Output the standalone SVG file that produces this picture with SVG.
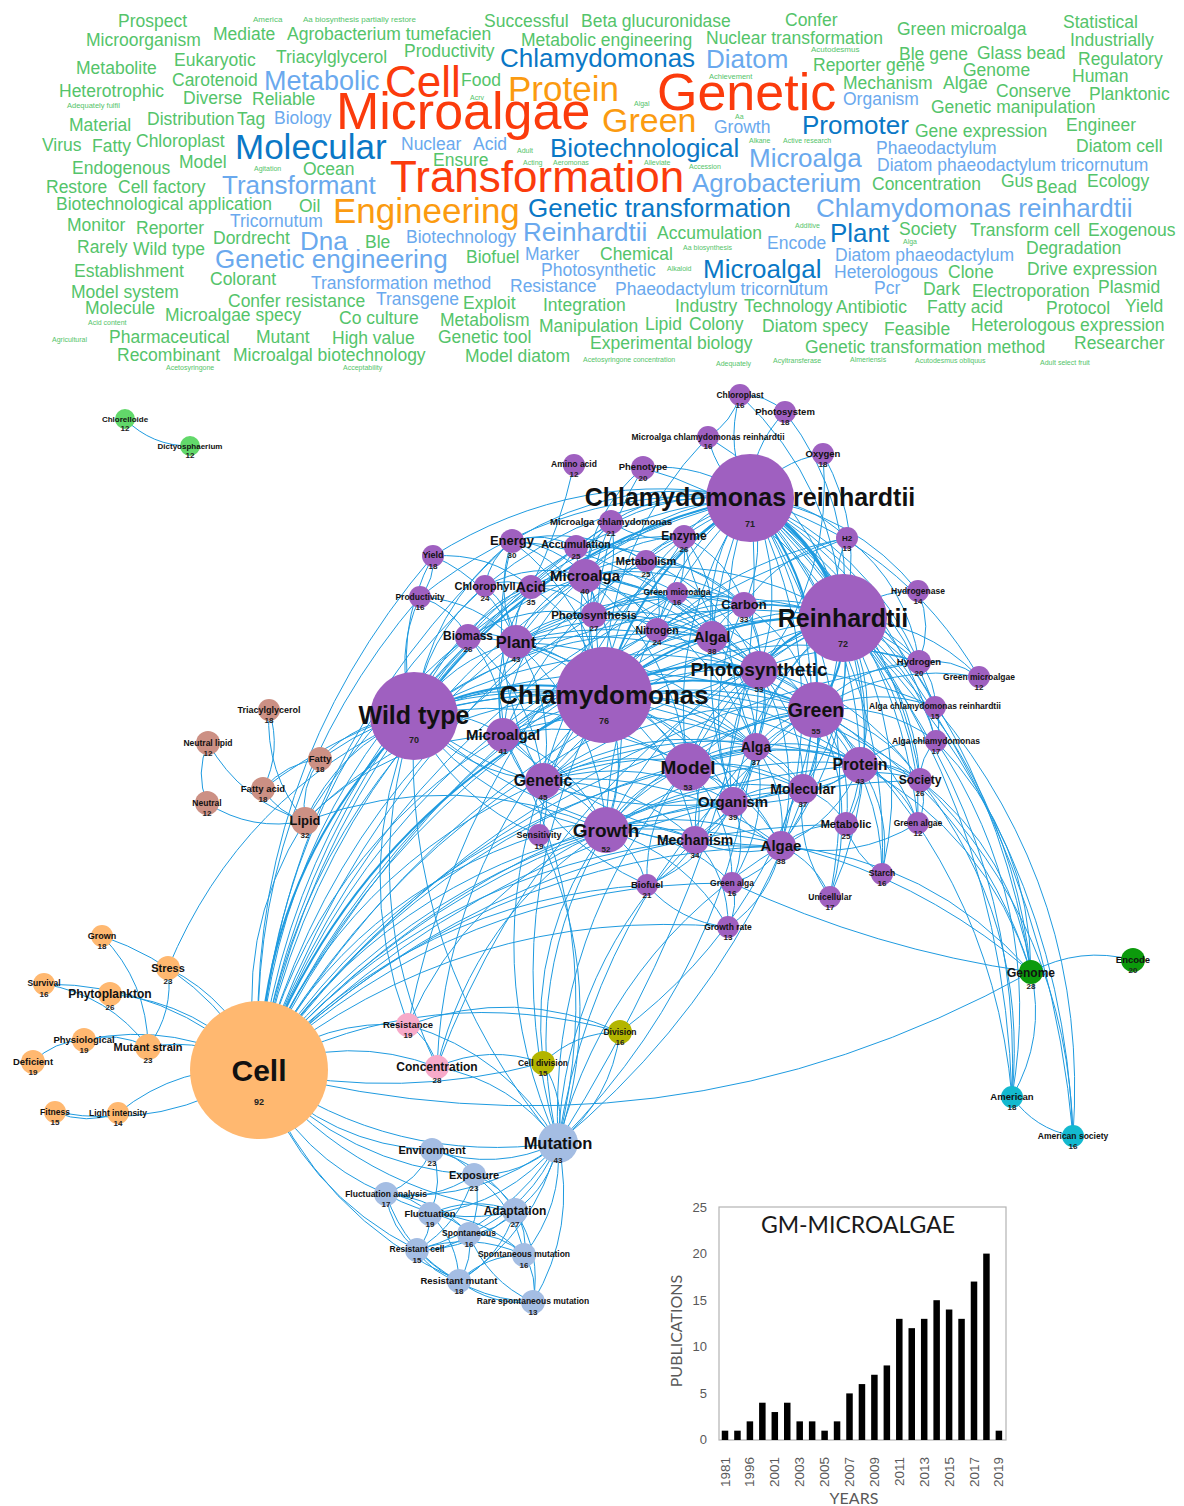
<svg xmlns="http://www.w3.org/2000/svg" width="1184" height="1506" viewBox="0 0 1184 1506">
<style>
text{font-family:"Liberation Sans",Arial,Helvetica,sans-serif}
.w{font-size:17.5px}
.g{fill:#54c46a}
.s{fill:#54c46a;font-size:8px}
.lb{fill:#6aa9ee}
.db{fill:#0a78c6}
.rd{fill:#fb3b0c}
.or{fill:#fb9b10}
#edges path{fill:none;stroke:#1f9be0;stroke-width:1}
#edges .t{stroke-width:2}
#edges .tt{stroke-width:3.4}
.p{fill:#9f60c0}
.o{fill:#ffb870}
.b{fill:#cc9084}
.lg{fill:#62d86a}
.pk{fill:#f7aac9}
.ol{fill:#b3b500}
.dg{fill:#0c9a0c}
.cy{fill:#13b9cf}
.lbn{fill:#a4bde3}
.l{font-weight:700;text-anchor:middle;fill:#111}
.v{font-weight:700;text-anchor:middle;fill:#222;font-size:8px}
.ax{font-family:Lato,"Liberation Sans",sans-serif;fill:#595959}
</style>
<rect width="1184" height="1506" fill="#fff"/>
<g id="wordcloud">
<text class="w g" x="118" y="27">Prospect</text>
<text class="s" x="253" y="22">America</text>
<text class="s" x="303" y="22">Aa biosynthesis partially restore</text>
<text class="w g" x="484" y="27">Successful</text>
<text class="w g" x="581" y="27">Beta glucuronidase</text>
<text class="w g" x="785" y="26">Confer</text>
<text class="w g" x="897" y="35">Green microalga</text>
<text class="w g" x="1063" y="28">Statistical</text>
<text class="w g" x="86" y="46">Microorganism</text>
<text class="w g" x="213" y="40">Mediate</text>
<text class="w g" x="287" y="40">Agrobacterium tumefacien</text>
<text class="w g" x="521" y="46">Metabolic engineering</text>
<text class="w g" x="706" y="44">Nuclear transformation</text>
<text class="w g" x="1070" y="46">Industrially</text>
<text class="w g" x="174" y="66">Eukaryotic</text>
<text class="w g" x="276" y="63">Triacylglycerol</text>
<text class="w g" x="404" y="57">Productivity</text>
<text class="db" x="500" y="67" font-size="26">Chlamydomonas</text>
<text class="lb" x="706" y="68" font-size="26">Diatom</text>
<text class="s" x="811" y="52" font-size="7.5">Acutodesmus</text>
<text class="w g" x="899" y="60">Ble gene</text>
<text class="w g" x="977" y="59">Glass bead</text>
<text class="w g" x="1078" y="65">Regulatory</text>
<text class="w g" x="76" y="74">Metabolite</text>
<text class="w g" x="813" y="71">Reporter gene</text>
<text class="w g" x="172" y="86">Carotenoid</text>
<text class="lb" x="264" y="90" font-size="27">Metabolic</text>
<text class="rd" x="385" y="97" font-size="44">Cell</text>
<text class="w g" x="461" y="86">Food</text>
<text class="or" x="508" y="101" font-size="35">Protein</text>
<text class="s" x="709" y="79" style="font-size:7.5px">Achievement</text>
<text class="rd" x="657" y="110" font-size="52">Genetic</text>
<text class="w g" x="963" y="76">Genome</text>
<text class="w g" x="1072" y="82">Human</text>
<text class="w g" x="59" y="97">Heterotrophic</text>
<text class="w g" x="843" y="89">Mechanism</text>
<text class="w g" x="943" y="89">Algae</text>
<text class="w g" x="996" y="97">Conserve</text>
<text class="w g" x="1089" y="100">Planktonic</text>
<text class="w g" x="183" y="104">Diverse</text>
<text class="w g" x="252" y="105">Reliable</text>
<text class="s" x="67" y="108" style="font-size:7.5px">Adequately fulfil</text>
<text class="s" x="470" y="100" style="font-size:7px">Acrv</text>
<text class="s" x="634" y="106" style="font-size:7px">Algal</text>
<text class="lb" x="843" y="105" font-size="17.5">Organism</text>
<text class="rd" x="336" y="129" font-size="52">Microalgae</text>
<text class="w g" x="931" y="113">Genetic manipulation</text>
<text class="w g" x="69" y="131">Material</text>
<text class="w g" x="147" y="125">Distribution</text>
<text class="w g" x="237" y="125">Tag</text>
<text class="lb" x="274" y="124" font-size="17.5">Biology</text>
<text class="or" x="602" y="132" font-size="34">Green</text>
<text class="s" x="735" y="119" style="font-size:7px">Aa</text>
<text class="lb" x="714" y="133" font-size="17.5">Growth</text>
<text class="db" x="802" y="134" font-size="26">Promoter</text>
<text class="w g" x="915" y="137">Gene expression</text>
<text class="w g" x="1066" y="131">Engineer</text>
<text class="w g" x="42" y="151">Virus</text>
<text class="w g" x="92" y="152">Fatty</text>
<text class="w g" x="136" y="147">Chloroplast</text>
<text class="db" x="235" y="159" font-size="35">Molecular</text>
<text class="lb" x="401" y="150" font-size="17.5">Nuclear</text>
<text class="lb" x="473" y="150" font-size="17.5">Acid</text>
<text class="s" x="517" y="153" style="font-size:7px">Adult</text>
<text class="db" x="550" y="157" font-size="26">Biotechnological</text>
<text class="s" x="749" y="143" style="font-size:7px">Alkane</text>
<text class="s" x="783" y="143" style="font-size:7px">Active research</text>
<text class="lb" x="749" y="167" font-size="26">Microalga</text>
<text class="lb" x="876" y="154" font-size="17.5">Phaeodactylum</text>
<text class="w g" x="1076" y="152">Diatom cell</text>
<text class="w g" x="72" y="174">Endogenous</text>
<text class="w g" x="179" y="168">Model</text>
<text class="s" x="254" y="171" style="font-size:7px">Agitation</text>
<text class="w g" x="303" y="175">Ocean</text>
<text class="w g" x="433" y="166">Ensure</text>
<text class="s" x="523" y="165" style="font-size:7px">Acting</text>
<text class="s" x="553" y="165" style="font-size:7px">Aeromonas</text>
<text class="s" x="644" y="165" style="font-size:7px">Alleviate</text>
<text class="s" x="689" y="169" style="font-size:7px">Accession</text>
<text class="lb" x="877" y="171" font-size="17.5">Diatom phaeodactylum tricornutum</text>
<text class="rd" x="390" y="192" font-size="44">Transformation</text>
<text class="w g" x="46" y="193">Restore</text>
<text class="w g" x="118" y="193">Cell factory</text>
<text class="lb" x="222" y="194" font-size="26">Transformant</text>
<text class="lb" x="692" y="192" font-size="26">Agrobacterium</text>
<text class="w g" x="872" y="190">Concentration</text>
<text class="w g" x="1001" y="187">Gus</text>
<text class="w g" x="1036" y="193">Bead</text>
<text class="w g" x="1087" y="187">Ecology</text>
<text class="w g" x="56" y="210">Biotechnological application</text>
<text class="w g" x="299" y="212">Oil</text>
<text class="or" x="333" y="223" font-size="35">Engineering</text>
<text class="db" x="528" y="217" font-size="26">Genetic transformation</text>
<text class="lb" x="816" y="217" font-size="26">Chlamydomonas reinhardtii</text>
<text class="lb" x="230" y="227" font-size="17.5">Tricornutum</text>
<text class="w g" x="67" y="231">Monitor</text>
<text class="w g" x="136" y="234">Reporter</text>
<text class="w g" x="213" y="244">Dordrecht</text>
<text class="lb" x="300" y="250" font-size="26">Dna</text>
<text class="w g" x="365" y="248">Ble</text>
<text class="lb" x="406" y="243" font-size="17.5">Biotechnology</text>
<text class="lb" x="523" y="241" font-size="26">Reinhardtii</text>
<text class="w g" x="657" y="239">Accumulation</text>
<text class="s" x="795" y="228" style="font-size:7px">Additive</text>
<text class="db" x="830" y="242" font-size="26">Plant</text>
<text class="w g" x="899" y="235">Society</text>
<text class="w g" x="970" y="236">Transform cell</text>
<text class="w g" x="1088" y="236">Exogenous</text>
<text class="lb" x="767" y="249" font-size="17.5">Encode</text>
<text class="s" x="903" y="244" style="font-size:7px">Alga</text>
<text class="w g" x="77" y="253">Rarely</text>
<text class="w g" x="133" y="255">Wild type</text>
<text class="lb" x="215" y="268" font-size="26">Genetic engineering</text>
<text class="w g" x="466" y="263">Biofuel</text>
<text class="lb" x="525" y="260" font-size="17.5">Marker</text>
<text class="w g" x="600" y="260">Chemical</text>
<text class="s" x="683" y="250" style="font-size:7px">Aa biosynthesis</text>
<text class="lb" x="835" y="261" font-size="17.5">Diatom phaeodactylum</text>
<text class="w g" x="1026" y="254">Degradation</text>
<text class="w g" x="74" y="277">Establishment</text>
<text class="w g" x="210" y="285">Colorant</text>
<text class="lb" x="541" y="276" font-size="17.5">Photosynthetic</text>
<text class="s" x="667" y="271" style="font-size:7px">Alkaloid</text>
<text class="db" x="703" y="278" font-size="26">Microalgal</text>
<text class="lb" x="834" y="278" font-size="17.5">Heterologous</text>
<text class="w g" x="948" y="278">Clone</text>
<text class="w g" x="1027" y="275">Drive expression</text>
<text class="w g" x="71" y="298">Model system</text>
<text class="lb" x="311" y="289" font-size="17.5">Transformation method</text>
<text class="lb" x="510" y="292" font-size="17.5">Resistance</text>
<text class="lb" x="615" y="295" font-size="17.5">Phaeodactylum tricornutum</text>
<text class="lb" x="874" y="294" font-size="17.5">Pcr</text>
<text class="w g" x="923" y="295">Dark</text>
<text class="w g" x="972" y="297">Electroporation</text>
<text class="w g" x="1098" y="293">Plasmid</text>
<text class="w g" x="85" y="314">Molecule</text>
<text class="w g" x="228" y="307">Confer resistance</text>
<text class="lb" x="376" y="305" font-size="17.5">Transgene</text>
<text class="w g" x="463" y="309">Exploit</text>
<text class="w g" x="543" y="311">Integration</text>
<text class="w g" x="675" y="312">Industry</text>
<text class="w g" x="744" y="312">Technology</text>
<text class="w g" x="836" y="313">Antibiotic</text>
<text class="w g" x="927" y="313">Fatty acid</text>
<text class="w g" x="1046" y="314">Protocol</text>
<text class="w g" x="1125" y="312">Yield</text>
<text class="s" x="88" y="325" style="font-size:7px">Acid content</text>
<text class="w g" x="165" y="321">Microalgae specy</text>
<text class="w g" x="339" y="324">Co culture</text>
<text class="w g" x="440" y="326">Metabolism</text>
<text class="w g" x="539" y="332">Manipulation</text>
<text class="w g" x="645" y="330">Lipid</text>
<text class="w g" x="689" y="330">Colony</text>
<text class="w g" x="762" y="332">Diatom specy</text>
<text class="w g" x="884" y="335">Feasible</text>
<text class="w g" x="971" y="331">Heterologous expression</text>
<text class="s" x="52" y="342" style="font-size:7px">Agricultural</text>
<text class="w g" x="109" y="343">Pharmaceutical</text>
<text class="w g" x="256" y="343">Mutant</text>
<text class="w g" x="332" y="344">High value</text>
<text class="w g" x="438" y="343">Genetic tool</text>
<text class="w g" x="590" y="349">Experimental biology</text>
<text class="w g" x="1074" y="349">Researcher</text>
<text class="w g" x="117" y="361">Recombinant</text>
<text class="w g" x="233" y="361">Microalgal biotechnology</text>
<text class="w g" x="465" y="362">Model diatom</text>
<text class="s" x="583" y="362" style="font-size:7px">Acetosyringone concentration</text>
<text class="w g" x="805" y="353">Genetic transformation method</text>
<text class="s" x="166" y="370" style="font-size:7px">Acetosyringone</text>
<text class="s" x="343" y="370" style="font-size:7px">Acceptability</text>
<text class="s" x="716" y="366" style="font-size:7px">Adequately</text>
<text class="s" x="773" y="363" style="font-size:7px">Acyltransferase</text>
<text class="s" x="850" y="362" style="font-size:7px">Almeriensis</text>
<text class="s" x="915" y="363" style="font-size:7px">Acutodesmus obliquus</text>
<text class="s" x="1040" y="365" style="font-size:7px">Adult select fruit</text>
</g>
<g id="edges">
<path class="t" d="M259 1070Q266 862 414 716"/>
<path class="t" d="M259 1070Q357 814 604 695"/>
<path d="M259 1070Q390 686 750 498"/>
<path d="M259 1070Q461 727 843 618"/>
<path d="M259 1070Q466 779 816 710"/>
<path d="M259 1070Q413 833 688 767"/>
<path d="M259 1070Q385 881 606 830"/>
<path d="M259 1070Q429 770 759 670"/>
<path d="M259 1070Q343 869 543 781"/>
<path d="M259 1070Q314 854 503 735"/>
<path d="M259 1070Q302 805 516 642"/>
<path d="M259 1070Q323 758 585 576"/>
<path d="M259 1070Q475 854 781 846"/>
<path d="M259 1070Q443 809 756 747"/>
<path d="M259 1070Q442 841 733 802"/>
<path d="M259 1070Q498 797 860 765"/>
<path d="M558 1143Q394 1166 259 1070"/>
<path d="M259 1070Q324 1018 408 1025"/>
<path d="M259 1070Q347 1033 437 1067"/>
<path d="M543 1063Q402 1100 259 1070"/>
<path d="M259 1070Q432 979 620 1032"/>
<path d="M1031 972Q665 1175 259 1070"/>
<path d="M432 1150Q330 1145 259 1070"/>
<path d="M474 1175Q346 1166 259 1070"/>
<path d="M386 1194Q298 1157 259 1070"/>
<path d="M417 1250Q302 1192 259 1070"/>
<path d="M459 1281Q317 1216 259 1070"/>
<path d="M515 1211Q359 1192 259 1070"/>
<path d="M102 936Q207 972 259 1070"/>
<path d="M168 968Q234 1001 259 1070"/>
<path d="M44 984Q169 984 259 1070"/>
<path d="M110 994Q200 1002 259 1070"/>
<path d="M84 1040Q178 1020 259 1070"/>
<path d="M148 1047Q208 1036 259 1070"/>
<path d="M33 1062Q54 1041 84 1040"/>
<path d="M118 1113Q86 1125 55 1112"/>
<path d="M259 1070Q165 1132 55 1112"/>
<path d="M118 1113Q180 1063 259 1070"/>
<path d="M168 968Q174 1012 148 1047"/>
<path d="M102 936Q147 982 148 1047"/>
<path d="M44 984Q109 995 148 1047"/>
<path d="M84 1040Q117 1031 148 1047"/>
<path d="M168 968Q241 793 414 716"/>
<path d="M305 821Q339 747 414 716"/>
<path d="M305 821Q429 698 604 695"/>
<path d="M305 821Q463 571 750 498"/>
<path d="M305 821Q278 813 263 789"/>
<path d="M305 821Q241 801 208 743"/>
<path d="M305 821Q252 832 207 803"/>
<path d="M305 821Q265 773 269 710"/>
<path d="M305 821Q300 787 320 759"/>
<path d="M207 803Q195 773 208 743"/>
<path d="M263 789Q286 763 320 759"/>
<path d="M320 759Q358 719 414 716"/>
<path d="M320 759Q449 670 604 695"/>
<path d="M263 789Q415 674 604 695"/>
<path d="M269 710Q282 751 263 789"/>
<path d="M259 1070Q232 936 305 821"/>
<path d="M305 821Q457 765 606 830"/>
<path d="M305 821Q387 738 503 735"/>
<path d="M190 446Q152 446 125 419"/>
<path class="t" d="M414 716Q505 668 604 695"/>
<path class="t" d="M414 716Q538 540 750 498"/>
<path d="M414 716Q609 581 843 618"/>
<path d="M414 716Q614 633 816 710"/>
<path d="M414 716Q577 624 759 670"/>
<path d="M414 716Q561 687 688 767"/>
<path d="M606 830Q487 811 414 716"/>
<path d="M543 781Q466 774 414 716"/>
<path d="M414 716Q462 708 503 735"/>
<path d="M414 716Q450 659 516 642"/>
<path d="M414 716Q472 612 585 576"/>
<path d="M414 716Q591 663 756 747"/>
<path d="M781 846Q572 854 414 716"/>
<path d="M414 716Q647 651 860 765"/>
<path d="M733 802Q556 823 414 716"/>
<path d="M414 716Q425 666 468 637"/>
<path d="M414 716Q392 632 433 556"/>
<path d="M414 716Q393 655 420 597"/>
<path d="M414 716Q547 617 712 637"/>
<path d="M414 716Q447 628 531 587"/>
<path d="M558 1143Q401 958 414 716"/>
<path d="M437 1067Q355 896 414 716"/>
<path d="M408 1025Q349 869 414 716"/>
<path d="M414 716Q424 637 485 586"/>
<path d="M414 716Q428 609 512 541"/>
<path d="M539 835Q453 800 414 716"/>
<path class="t" d="M604 695Q638 567 750 498"/>
<path class="t" d="M604 695Q708 609 843 618"/>
<path class="t" d="M604 695Q713 660 816 710"/>
<path class="t" d="M604 695Q677 652 759 670"/>
<path d="M604 695Q660 714 688 767"/>
<path d="M604 695Q632 762 606 830"/>
<path d="M604 695Q591 750 543 781"/>
<path d="M503 735Q546 695 604 695"/>
<path d="M516 642Q571 651 604 695"/>
<path d="M604 695Q571 639 585 576"/>
<path d="M604 695Q690 691 756 747"/>
<path d="M604 695Q723 735 781 846"/>
<path d="M604 695Q746 679 860 765"/>
<path d="M604 695Q690 723 733 802"/>
<path d="M604 695Q722 702 803 789"/>
<path d="M604 695Q646 644 712 637"/>
<path d="M604 695Q656 622 744 605"/>
<path d="M468 637Q548 639 604 695"/>
<path d="M531 587Q589 626 604 695"/>
<path d="M512 541Q589 600 604 695"/>
<path d="M604 695Q612 600 684 537"/>
<path d="M604 695Q573 607 611 522"/>
<path d="M604 695Q694 568 847 538"/>
<path d="M604 695Q755 616 919 662"/>
<path d="M604 695Q779 674 920 780"/>
<path d="M558 1143Q491 910 604 695"/>
<path d="M604 695Q679 749 695 840"/>
<path d="M604 695Q620 629 677 593"/>
<path d="M604 695Q772 635 935 707"/>
<path d="M539 835Q544 752 604 695"/>
<path class="tt" d="M750 498Q821 539 843 618"/>
<path d="M750 498Q724 449 740 395"/>
<path d="M750 498Q750 448 785 412"/>
<path d="M750 498Q717 476 708 437"/>
<path d="M750 498Q778 461 823 454"/>
<path d="M643 468Q703 462 750 498"/>
<path d="M611 522Q676 482 750 498"/>
<path d="M684 537Q709 504 750 498"/>
<path d="M750 498Q807 499 847 538"/>
<path d="M750 498Q853 511 918 591"/>
<path d="M750 498Q867 546 919 662"/>
<path d="M750 498Q789 582 759 670"/>
<path class="t" d="M750 498Q825 591 816 710"/>
<path d="M688 767Q665 620 750 498"/>
<path d="M585 576Q652 504 750 498"/>
<path d="M516 642Q604 523 750 498"/>
<path d="M606 830Q612 635 750 498"/>
<path d="M543 781Q590 598 750 498"/>
<path d="M503 735Q579 567 750 498"/>
<path d="M756 747Q703 624 750 498"/>
<path d="M750 498Q835 666 781 846"/>
<path d="M750 498Q858 610 860 765"/>
<path d="M733 802Q681 647 750 498"/>
<path d="M750 498Q835 633 803 789"/>
<path d="M712 637Q703 560 750 498"/>
<path d="M750 498Q768 553 744 605"/>
<path d="M657 630Q677 545 750 498"/>
<path d="M750 498Q884 566 935 707"/>
<path d="M750 498Q892 582 936 741"/>
<path d="M750 498Q891 605 920 780"/>
<path d="M750 498Q891 660 882 874"/>
<path d="M750 498Q985 679 1031 972"/>
<path d="M750 498Q1001 745 1012 1097"/>
<path d="M750 498Q1039 752 1073 1136"/>
<path d="M433 556Q580 464 750 498"/>
<path d="M512 541Q622 472 750 498"/>
<path d="M576 547Q653 488 750 498"/>
<path d="M485 586Q600 489 750 498"/>
<path d="M468 637Q581 511 750 498"/>
<path d="M420 597Q565 481 750 498"/>
<path d="M750 498Q870 681 830 897"/>
<path d="M750 498Q899 627 918 823"/>
<path d="M750 498Q900 542 979 677"/>
<path class="t" d="M843 618Q848 669 816 710"/>
<path class="t" d="M759 670Q791 627 843 618"/>
<path d="M843 618Q875 590 918 591"/>
<path d="M843 618Q890 625 919 662"/>
<path d="M843 618Q923 620 979 677"/>
<path d="M843 618Q907 644 935 707"/>
<path d="M843 618Q914 661 936 741"/>
<path d="M843 618Q914 684 920 780"/>
<path d="M843 618Q881 688 860 765"/>
<path d="M688 767Q736 662 843 618"/>
<path d="M606 830Q682 677 843 618"/>
<path d="M756 747Q774 665 843 618"/>
<path d="M843 618Q858 744 781 846"/>
<path d="M843 618Q857 712 803 789"/>
<path d="M733 802Q751 688 843 618"/>
<path d="M712 637Q774 601 843 618"/>
<path d="M744 605Q796 592 843 618"/>
<path d="M843 618Q829 577 847 538"/>
<path d="M585 576Q722 545 843 618"/>
<path d="M516 642Q675 565 843 618"/>
<path d="M543 781Q660 640 843 618"/>
<path d="M503 735Q650 609 843 618"/>
<path d="M843 618Q914 738 882 874"/>
<path d="M843 618Q886 720 846 824"/>
<path d="M843 618Q1008 757 1031 972"/>
<path d="M843 618Q1023 824 1012 1097"/>
<path d="M843 618Q1062 831 1073 1136"/>
<path d="M843 618Q892 760 830 897"/>
<path d="M657 630Q748 587 843 618"/>
<path d="M843 618Q922 706 918 823"/>
<path d="M759 670Q796 679 816 710"/>
<path d="M688 767Q741 713 816 710"/>
<path d="M606 830Q687 728 816 710"/>
<path d="M543 781Q665 691 816 710"/>
<path d="M503 735Q654 660 816 710"/>
<path d="M756 747Q779 716 816 710"/>
<path d="M816 710Q826 785 781 846"/>
<path d="M816 710Q849 729 860 765"/>
<path d="M816 710Q825 752 803 789"/>
<path d="M733 802Q756 739 816 710"/>
<path d="M816 710Q882 724 920 780"/>
<path d="M816 710Q882 701 936 741"/>
<path d="M816 710Q875 685 935 707"/>
<path d="M816 710Q858 665 919 662"/>
<path d="M816 710Q891 661 979 677"/>
<path d="M516 642Q680 616 816 710"/>
<path d="M585 576Q727 597 816 710"/>
<path d="M695 840Q730 751 816 710"/>
<path d="M816 710Q890 746 918 823"/>
<path d="M816 710Q854 761 846 824"/>
<path d="M816 710Q976 798 1031 972"/>
<path d="M816 710Q991 864 1012 1097"/>
<path d="M558 1143Q600 875 816 710"/>
<path d="M816 710Q860 801 830 897"/>
<path d="M816 710Q882 779 882 874"/>
<path d="M688 767Q704 704 759 670"/>
<path d="M606 830Q634 782 688 767"/>
<path d="M543 781Q613 745 688 767"/>
<path d="M503 735Q602 714 688 767"/>
<path d="M688 767Q718 743 756 747"/>
<path d="M688 767Q750 788 781 846"/>
<path d="M688 767Q718 776 733 802"/>
<path d="M688 767Q750 755 803 789"/>
<path d="M688 767Q774 732 860 765"/>
<path d="M688 767Q706 802 695 840"/>
<path d="M688 767Q807 727 920 780"/>
<path d="M558 1143Q548 929 688 767"/>
<path d="M516 642Q627 670 688 767"/>
<path d="M585 576Q675 651 688 767"/>
<path d="M688 767Q733 816 732 883"/>
<path d="M647 885Q644 818 688 767"/>
<path d="M543 781Q584 793 606 830"/>
<path d="M503 735Q574 762 606 830"/>
<path d="M606 830Q652 817 695 840"/>
<path d="M606 830Q697 803 781 846"/>
<path d="M606 830Q664 791 733 802"/>
<path d="M606 830Q664 758 756 747"/>
<path d="M606 830Q720 747 860 765"/>
<path d="M539 835Q571 819 606 830"/>
<path d="M606 830Q637 849 647 885"/>
<path d="M606 830Q686 854 728 927"/>
<path d="M558 1143Q519 977 606 830"/>
<path d="M606 830Q696 770 803 789"/>
<path d="M516 642Q599 718 606 830"/>
<path d="M585 576Q646 699 606 830"/>
<path d="M606 830Q680 831 732 883"/>
<path d="M543 1063Q528 934 606 830"/>
<path d="M408 1025Q468 888 606 830"/>
<path d="M437 1067Q474 915 606 830"/>
<path d="M606 830Q847 816 1031 972"/>
<path d="M503 735Q532 750 543 781"/>
<path d="M516 642Q557 706 543 781"/>
<path d="M543 781Q643 721 756 747"/>
<path d="M543 781Q675 766 781 846"/>
<path d="M543 781Q642 753 733 802"/>
<path d="M543 781Q675 733 803 789"/>
<path d="M543 781Q631 780 695 840"/>
<path d="M543 781Q698 710 860 765"/>
<path d="M558 1143Q478 965 543 781"/>
<path d="M543 781Q552 809 539 835"/>
<path d="M585 576Q605 687 543 781"/>
<path d="M503 735Q491 686 516 642"/>
<path d="M503 735Q512 639 585 576"/>
<path d="M503 735Q618 651 759 670"/>
<path d="M503 735Q632 690 756 747"/>
<path d="M647 885Q545 839 503 735"/>
<path d="M781 846Q620 846 503 735"/>
<path d="M503 735Q487 655 531 587"/>
<path d="M516 642Q537 595 585 576"/>
<path d="M516 642Q643 607 759 670"/>
<path d="M468 637Q493 630 516 642"/>
<path d="M516 642Q550 613 594 615"/>
<path d="M516 642Q512 611 531 587"/>
<path d="M485 586Q512 608 516 642"/>
<path d="M516 642Q657 646 756 747"/>
<path d="M516 642Q613 600 712 637"/>
<path d="M516 642Q623 578 744 605"/>
<path d="M516 642Q494 592 512 541"/>
<path d="M420 597Q477 600 516 642"/>
<path d="M433 556Q492 582 516 642"/>
<path d="M585 576Q575 563 576 547"/>
<path d="M585 576Q612 556 646 561"/>
<path d="M585 576Q627 537 684 537"/>
<path d="M585 576Q597 594 594 615"/>
<path d="M585 576Q691 588 759 670"/>
<path d="M585 576Q661 581 712 637"/>
<path d="M585 576Q670 559 744 605"/>
<path d="M512 541Q556 544 585 576"/>
<path d="M531 587Q556 571 585 576"/>
<path d="M585 576Q632 589 657 630"/>
<path d="M585 576Q634 566 677 593"/>
<path d="M585 576Q587 544 611 522"/>
<path d="M585 576Q592 510 643 468"/>
<path d="M485 586Q533 561 585 576"/>
<path d="M585 576Q705 627 756 747"/>
<path d="M712 637Q742 644 759 670"/>
<path d="M744 605Q764 634 759 670"/>
<path d="M759 670Q773 709 756 747"/>
<path d="M759 670Q828 697 860 765"/>
<path d="M759 670Q805 754 781 846"/>
<path d="M733 802Q720 731 759 670"/>
<path d="M759 670Q805 721 803 789"/>
<path d="M594 615Q688 610 759 670"/>
<path d="M759 670Q837 634 919 662"/>
<path d="M657 630Q716 630 759 670"/>
<path d="M759 670Q695 618 684 537"/>
<path d="M695 840Q693 742 759 670"/>
<path d="M759 670Q861 693 920 780"/>
<path d="M712 637Q722 615 744 605"/>
<path d="M712 637Q756 683 756 747"/>
<path d="M657 630Q686 622 712 637"/>
<path d="M756 747Q812 735 860 765"/>
<path d="M756 747Q788 791 781 846"/>
<path d="M756 747Q755 779 733 802"/>
<path d="M756 747Q788 759 803 789"/>
<path d="M756 747Q744 806 695 840"/>
<path d="M756 747Q771 820 732 883"/>
<path d="M860 765Q836 788 803 789"/>
<path d="M860 765Q893 760 920 780"/>
<path d="M860 765Q837 821 781 846"/>
<path d="M860 765Q865 797 846 824"/>
<path d="M860 765Q804 809 733 802"/>
<path d="M860 765Q893 738 936 741"/>
<path d="M860 765Q893 815 882 874"/>
<path d="M860 765Q987 834 1031 972"/>
<path d="M860 765Q901 782 918 823"/>
<path d="M920 780Q920 757 936 741"/>
<path d="M920 780Q928 802 918 823"/>
<path d="M920 780Q1029 920 1012 1097"/>
<path d="M920 780Q1068 927 1073 1136"/>
<path d="M920 780Q1014 854 1031 972"/>
<path d="M781 846Q781 813 803 789"/>
<path d="M781 846Q748 834 733 802"/>
<path d="M781 846Q737 860 695 840"/>
<path d="M781 846Q809 822 846 824"/>
<path d="M781 846Q764 874 732 883"/>
<path d="M781 846Q816 862 830 897"/>
<path d="M781 846Q771 897 728 927"/>
<path d="M781 846Q931 859 1031 972"/>
<path d="M918 823Q854 862 781 846"/>
<path d="M733 802Q765 781 803 789"/>
<path d="M733 802Q722 829 695 840"/>
<path d="M733 802Q749 843 732 883"/>
<path d="M733 802Q707 861 647 885"/>
<path d="M695 840Q680 872 647 885"/>
<path d="M695 840Q729 877 728 927"/>
<path d="M695 840Q739 793 803 789"/>
<path d="M803 789Q831 798 846 824"/>
<path d="M803 789Q860 761 920 780"/>
<path d="M728 927Q679 922 647 885"/>
<path d="M732 883Q739 906 728 927"/>
<path d="M1031 972Q875 950 732 883"/>
<path d="M830 897Q795 848 803 789"/>
<path d="M882 874Q854 856 846 824"/>
<path d="M919 662Q952 657 979 677"/>
<path d="M919 662Q936 681 935 707"/>
<path d="M918 591Q933 626 919 662"/>
<path d="M935 707Q942 724 936 741"/>
<path d="M936 741Q1045 904 1012 1097"/>
<path d="M936 741Q1030 837 1031 972"/>
<path d="M935 707Q1090 894 1073 1136"/>
<path d="M1031 972Q1080 946 1133 960"/>
<path d="M1073 1136Q1035 1129 1012 1097"/>
<path d="M1031 972Q1046 1038 1012 1097"/>
<path d="M558 1143Q496 1172 432 1150"/>
<path d="M558 1143Q522 1176 474 1175"/>
<path d="M558 1143Q482 1203 386 1194"/>
<path d="M558 1143Q508 1204 430 1214"/>
<path d="M558 1143Q550 1186 515 1211"/>
<path d="M558 1143Q532 1206 469 1234"/>
<path d="M558 1143Q509 1225 417 1250"/>
<path d="M558 1143Q563 1206 524 1255"/>
<path d="M558 1143Q536 1232 459 1281"/>
<path d="M558 1143Q577 1228 533 1302"/>
<path d="M432 1150Q458 1154 474 1175"/>
<path d="M432 1150Q418 1181 386 1194"/>
<path d="M432 1150Q444 1182 430 1214"/>
<path d="M432 1150Q486 1164 515 1211"/>
<path d="M474 1175Q502 1185 515 1211"/>
<path d="M474 1175Q483 1205 469 1234"/>
<path d="M474 1175Q460 1224 417 1250"/>
<path d="M474 1175Q515 1205 524 1255"/>
<path d="M474 1175Q434 1202 386 1194"/>
<path d="M386 1194Q412 1195 430 1214"/>
<path d="M417 1250Q390 1228 386 1194"/>
<path d="M459 1281Q405 1252 386 1194"/>
<path d="M386 1194Q436 1197 469 1234"/>
<path d="M515 1211Q447 1228 386 1194"/>
<path d="M430 1214Q454 1216 469 1234"/>
<path d="M430 1214Q431 1235 417 1250"/>
<path d="M430 1214Q458 1242 459 1281"/>
<path d="M430 1214Q472 1195 515 1211"/>
<path d="M430 1214Q485 1216 524 1255"/>
<path d="M515 1211Q497 1232 469 1234"/>
<path d="M515 1211Q528 1231 524 1255"/>
<path d="M515 1211Q474 1250 417 1250"/>
<path d="M515 1211Q542 1253 533 1302"/>
<path d="M515 1211Q501 1257 459 1281"/>
<path d="M469 1234Q446 1252 417 1250"/>
<path d="M469 1234Q501 1233 524 1255"/>
<path d="M469 1234Q473 1260 459 1281"/>
<path d="M533 1302Q487 1281 469 1234"/>
<path d="M459 1281Q432 1274 417 1250"/>
<path d="M417 1250Q472 1231 524 1255"/>
<path d="M459 1281Q486 1255 524 1255"/>
<path d="M524 1255Q538 1277 533 1302"/>
<path d="M533 1302Q492 1306 459 1281"/>
<path d="M533 1302Q465 1299 417 1250"/>
<path d="M437 1067Q513 1081 558 1143"/>
<path d="M408 1025Q507 1054 558 1143"/>
<path d="M620 1032Q611 1100 558 1143"/>
<path d="M543 1063Q566 1100 558 1143"/>
<path d="M558 1143Q566 964 695 840"/>
<path d="M558 1143Q610 950 781 846"/>
<path d="M503 735Q612 928 558 1143"/>
<path d="M843 618Q805 937 558 1143"/>
<path d="M750 498Q783 782 558 1143"/>
<path d="M759 670Q753 947 558 1143"/>
<path d="M539 835Q610 985 558 1143"/>
<path d="M408 1025Q431 1040 437 1067"/>
<path d="M408 1025Q474 693 750 498"/>
<path d="M437 1067Q550 761 843 618"/>
<path d="M408 1025Q515 986 620 1032"/>
<path d="M437 1067Q489 1044 543 1063"/>
<path d="M543 1063Q575 1032 620 1032"/>
<path d="M816 710Q782 910 620 1032"/>
<path d="M437 1067Q446 848 604 695"/>
<path d="M740 395Q766 394 785 412"/>
<path d="M740 395Q732 422 708 437"/>
<path d="M740 395Q836 486 843 618"/>
<path d="M785 412Q855 503 843 618"/>
<path d="M823 454Q866 532 843 618"/>
<path d="M823 454Q834 575 759 670"/>
<path d="M604 695Q604 545 708 437"/>
<path d="M708 437Q812 500 843 618"/>
<path d="M604 695Q578 574 643 468"/>
<path d="M643 468Q773 503 843 618"/>
<path d="M574 465Q560 528 531 587"/>
<path d="M847 538Q908 586 919 662"/>
<path d="M433 556Q435 579 420 597"/>
<path d="M259 1070Q245 801 420 597"/>
<path d="M259 1070Q243 778 433 556"/>
<path d="M259 1070Q277 812 468 637"/>
<path d="M259 1070Q275 783 485 586"/>
<path d="M259 1070Q298 774 531 587"/>
<path d="M259 1070Q280 755 512 541"/>
<path d="M259 1070Q399 763 712 637"/>
<path d="M259 1070Q475 821 803 789"/>
<path d="M259 1070Q431 868 695 840"/>
<path d="M259 1070Q352 896 539 835"/>
<path d="M259 1070Q507 734 919 662"/>
<path d="M259 1070Q531 793 920 780"/>
<path d="M259 1070Q408 740 744 605"/>
<path d="M259 1070Q370 770 657 630"/>
<path d="M259 1070Q336 776 594 615"/>
<path d="M259 1070Q458 882 732 883"/>
<path d="M259 1070Q416 900 647 885"/>
<path d="M259 1070Q313 745 576 547"/>
<path d="M259 1070Q447 686 847 538"/>
<path d="M259 1070Q503 830 846 824"/>
<path d="M259 1070Q465 905 728 927"/>
<path d="M259 1070Q325 726 611 522"/>
<path d="M259 1070Q373 748 677 593"/>
<path d="M485 586Q508 577 531 587"/>
<path d="M485 586Q490 558 512 541"/>
<path d="M512 541Q545 531 576 547"/>
<path d="M512 541Q583 524 646 561"/>
<path d="M512 541Q568 562 594 615"/>
<path d="M512 541Q631 549 712 637"/>
<path d="M576 547Q561 576 531 587"/>
<path d="M576 547Q614 540 646 561"/>
<path d="M576 547Q672 542 744 605"/>
<path d="M531 587Q568 588 594 615"/>
<path d="M468 637Q490 599 531 587"/>
<path d="M531 587Q632 576 712 637"/>
<path d="M531 587Q598 531 684 537"/>
<path d="M646 561Q660 541 684 537"/>
<path d="M646 561Q704 563 744 605"/>
<path d="M646 561Q724 593 759 670"/>
<path d="M646 561Q665 593 657 630"/>
<path d="M684 537Q728 559 744 605"/>
<path d="M684 537Q718 581 712 637"/>
<path d="M684 537Q689 589 657 630"/>
<path d="M684 537Q655 594 594 615"/>
<path d="M684 537Q644 544 611 522"/>
<path d="M611 522Q598 541 576 547"/>
<path d="M611 522Q621 572 594 615"/>
<path d="M594 615Q628 610 657 630"/>
<path d="M594 615Q657 602 712 637"/>
<path d="M594 615Q667 580 744 605"/>
<path d="M594 615Q631 587 677 593"/>
<path d="M657 630Q696 600 744 605"/>
<path d="M677 593Q713 586 744 605"/>
<path d="M677 593Q703 608 712 637"/>
<path d="M468 637Q527 601 594 615"/>
<path d="M468 637Q505 679 503 735"/>
<path d="M468 637Q534 694 543 781"/>
<path d="M420 597Q452 607 468 637"/>
<path d="M433 556Q488 552 531 587"/>
<path d="M744 605Q778 674 756 747"/>
<path d="M744 605Q801 643 816 710"/>
<path d="M744 605Q782 551 847 538"/>
<path d="M744 605Q843 598 919 662"/>
<path d="M733 802Q699 701 744 605"/>
<path d="M512 541Q480 667 543 781"/>
</g>
<g id="nodes">
<g id="n-chloroplast"><circle cx="740" cy="395" r="11" class="p"/><text class="l" x="740" y="398" font-size="8.5">Chloroplast</text><text class="v" x="740" y="408">16</text></g>
<g id="n-photosystem"><circle cx="785" cy="412" r="11" class="p"/><text class="l" x="785" y="415" font-size="9.5">Photosystem</text><text class="v" x="785" y="425">18</text></g>
<g id="n-mcr"><circle cx="708" cy="437" r="11" class="p"/><text class="l" x="708" y="440" font-size="8.5">Microalga chlamydomonas reinhardtii</text><text class="v" x="708" y="449">16</text></g>
<g id="n-oxygen"><circle cx="823" cy="454" r="11" class="p"/><text class="l" x="823" y="457" font-size="9.5">Oxygen</text><text class="v" x="823" y="467">18</text></g>
<g id="n-aminoacid"><circle cx="574" cy="465" r="11" class="p"/><text class="l" x="574" y="467" font-size="8.5">Amino acid</text><text class="v" x="574" y="477">12</text></g>
<g id="n-phenotype"><circle cx="643" cy="468" r="12" class="p"/><text class="l" x="643" y="470" font-size="9.5">Phenotype</text><text class="v" x="643" y="481">20</text></g>
<g id="n-cr"><circle cx="750" cy="498" r="44" class="p"/><text class="l" x="750" y="506" font-size="25">Chlamydomonas reinhardtii</text><text class="v" x="750" y="527" style="font-size:9px">71</text></g>
<g id="n-mch"><circle cx="611" cy="522" r="12" class="p"/><text class="l" x="611" y="525" font-size="9.5">Microalga chlamydomonas</text><text class="v" x="611" y="536">21</text></g>
<g id="n-energy"><circle cx="512" cy="541" r="12" class="p"/><text class="l" x="512" y="545" font-size="13">Energy</text><text class="v" x="512" y="558">30</text></g>
<g id="n-accumulation"><circle cx="576" cy="547" r="12" class="p"/><text class="l" x="576" y="548" font-size="10.5">Accumulation</text><text class="v" x="576" y="559">25</text></g>
<g id="n-enzyme"><circle cx="684" cy="537" r="12" class="p"/><text class="l" x="684" y="540" font-size="12">Enzyme</text><text class="v" x="684" y="552">26</text></g>
<g id="n-h2"><circle cx="847" cy="538" r="11" class="p"/><text class="l" x="847" y="541" font-size="8">H2</text><text class="v" x="847" y="551">13</text></g>
<g id="n-yield"><circle cx="433" cy="556" r="11" class="p"/><text class="l" x="433" y="558" font-size="9">Yield</text><text class="v" x="433" y="569">18</text></g>
<g id="n-metabolism"><circle cx="646" cy="561" r="11" class="p"/><text class="l" x="646" y="565" font-size="11">Metabolism</text><text class="v" x="646" y="577">25</text></g>
<g id="n-microalga"><circle cx="585" cy="576" r="17" class="p"/><text class="l" x="585" y="581" font-size="15">Microalga</text><text class="v" x="585" y="594">40</text></g>
<g id="n-chlorophyll"><circle cx="485" cy="586" r="11" class="p"/><text class="l" x="485" y="590" font-size="11">Chlorophyll</text><text class="v" x="485" y="601">24</text></g>
<g id="n-acid"><circle cx="531" cy="587" r="12" class="p"/><text class="l" x="531" y="592" font-size="14">Acid</text><text class="v" x="531" y="605">35</text></g>
<g id="n-greenmicroalga"><circle cx="677" cy="593" r="11" class="p"/><text class="l" x="677" y="595" font-size="8.5">Green microalga</text><text class="v" x="677" y="605">16</text></g>
<g id="n-hydrogenase"><circle cx="918" cy="591" r="11" class="p"/><text class="l" x="918" y="594" font-size="8.5">Hydrogenase</text><text class="v" x="918" y="604">14</text></g>
<g id="n-carbon"><circle cx="744" cy="605" r="13" class="p"/><text class="l" x="744" y="609" font-size="13">Carbon</text><text class="v" x="744" y="622">33</text></g>
<g id="n-productivity"><circle cx="420" cy="597" r="11" class="p"/><text class="l" x="420" y="600" font-size="8.5">Productivity</text><text class="v" x="420" y="610">16</text></g>
<g id="n-reinhardtii"><circle cx="843" cy="618" r="44" class="p"/><text class="l" x="843" y="627" font-size="25">Reinhardtii</text><text class="v" x="843" y="647" style="font-size:9px">72</text></g>
<g id="n-photosynthesis"><circle cx="594" cy="615" r="13" class="p"/><text class="l" x="594" y="619" font-size="11.5">Photosynthesis</text><text class="v" x="594" y="631">27</text></g>
<g id="n-biomass"><circle cx="468" cy="637" r="13" class="p"/><text class="l" x="468" y="640" font-size="12">Biomass</text><text class="v" x="468" y="652">26</text></g>
<g id="n-plant"><circle cx="516" cy="642" r="17" class="p"/><text class="l" x="516" y="648" font-size="16.5">Plant</text><text class="v" x="516" y="662">43</text></g>
<g id="n-nitrogen"><circle cx="657" cy="630" r="12" class="p"/><text class="l" x="657" y="634" font-size="10.5">Nitrogen</text><text class="v" x="657" y="645">24</text></g>
<g id="n-algal"><circle cx="712" cy="637" r="16" class="p"/><text class="l" x="712" y="642" font-size="15">Algal</text><text class="v" x="712" y="654">38</text></g>
<g id="n-hydrogen"><circle cx="919" cy="662" r="12" class="p"/><text class="l" x="919" y="665" font-size="9.5">Hydrogen</text><text class="v" x="919" y="676">20</text></g>
<g id="n-greenmicroalgae"><circle cx="979" cy="677" r="11" class="p"/><text class="l" x="979" y="680" font-size="8.5">Green microalgae</text><text class="v" x="979" y="690">12</text></g>
<g id="n-photosynthetic"><circle cx="759" cy="670" r="19" class="p"/><text class="l" x="759" y="676" font-size="19">Photosynthetic</text><text class="v" x="759" y="692">53</text></g>
<g id="n-chlamydomonas"><circle cx="604" cy="695" r="48" class="p"/><text class="l" x="604" y="704" font-size="26">Chlamydomonas</text><text class="v" x="604" y="724" style="font-size:9px">76</text></g>
<g id="n-wildtype"><circle cx="414" cy="716" r="44" class="p"/><text class="l" x="414" y="724" font-size="25">Wild type</text><text class="v" x="414" y="743" style="font-size:9px">70</text></g>
<g id="n-green"><circle cx="816" cy="710" r="28" class="p"/><text class="l" x="816" y="717" font-size="19.5">Green</text><text class="v" x="816" y="734">55</text></g>
<g id="n-acr"><circle cx="935" cy="707" r="11" class="p"/><text class="l" x="935" y="709" font-size="8.5">Alga chlamydomonas reinhardtii</text><text class="v" x="935" y="719">15</text></g>
<g id="n-microalgal"><circle cx="503" cy="735" r="17" class="p"/><text class="l" x="503" y="740" font-size="15">Microalgal</text><text class="v" x="503" y="754">41</text></g>
<g id="n-ach"><circle cx="936" cy="741" r="11" class="p"/><text class="l" x="936" y="744" font-size="8.5">Alga chlamydomonas</text><text class="v" x="936" y="754">17</text></g>
<g id="n-alga"><circle cx="756" cy="747" r="14" class="p"/><text class="l" x="756" y="752" font-size="14">Alga</text><text class="v" x="756" y="765">37</text></g>
<g id="n-model"><circle cx="688" cy="767" r="24" class="p"/><text class="l" x="688" y="774" font-size="19">Model</text><text class="v" x="688" y="790">53</text></g>
<g id="n-protein"><circle cx="860" cy="765" r="18" class="p"/><text class="l" x="860" y="770" font-size="16">Protein</text><text class="v" x="860" y="784">43</text></g>
<g id="n-society"><circle cx="920" cy="780" r="12" class="p"/><text class="l" x="920" y="784" font-size="12">Society</text><text class="v" x="920" y="796">26</text></g>
<g id="n-genetic"><circle cx="543" cy="781" r="18" class="p"/><text class="l" x="543" y="786" font-size="16">Genetic</text><text class="v" x="543" y="800">45</text></g>
<g id="n-organism"><circle cx="733" cy="802" r="15" class="p"/><text class="l" x="733" y="807" font-size="15">Organism</text><text class="v" x="733" y="820">39</text></g>
<g id="n-molecular"><circle cx="803" cy="789" r="15" class="p"/><text class="l" x="803" y="794" font-size="14">Molecular</text><text class="v" x="803" y="807">37</text></g>
<g id="n-metabolic"><circle cx="846" cy="824" r="12" class="p"/><text class="l" x="846" y="828" font-size="11">Metabolic</text><text class="v" x="846" y="839">25</text></g>
<g id="n-greenalgae"><circle cx="918" cy="823" r="11" class="p"/><text class="l" x="918" y="826" font-size="8.5">Green algae</text><text class="v" x="918" y="836">12</text></g>
<g id="n-sensitivity"><circle cx="539" cy="835" r="11" class="p"/><text class="l" x="539" y="838" font-size="9">Sensitivity</text><text class="v" x="539" y="849">19</text></g>
<g id="n-growth"><circle cx="606" cy="830" r="23" class="p"/><text class="l" x="606" y="837" font-size="19">Growth</text><text class="v" x="606" y="852">52</text></g>
<g id="n-mechanism"><circle cx="695" cy="840" r="14" class="p"/><text class="l" x="695" y="845" font-size="14">Mechanism</text><text class="v" x="695" y="858">34</text></g>
<g id="n-algae"><circle cx="781" cy="846" r="15" class="p"/><text class="l" x="781" y="851" font-size="15">Algae</text><text class="v" x="781" y="864">38</text></g>
<g id="n-starch"><circle cx="882" cy="874" r="11" class="p"/><text class="l" x="882" y="876" font-size="8.5">Starch</text><text class="v" x="882" y="886">16</text></g>
<g id="n-biofuel"><circle cx="647" cy="885" r="11" class="p"/><text class="l" x="647" y="888" font-size="9.5">Biofuel</text><text class="v" x="647" y="898">21</text></g>
<g id="n-greenalga"><circle cx="732" cy="883" r="11" class="p"/><text class="l" x="732" y="886" font-size="8.5">Green alga</text><text class="v" x="732" y="896">16</text></g>
<g id="n-unicellular"><circle cx="830" cy="897" r="11" class="p"/><text class="l" x="830" y="900" font-size="8.5">Unicellular</text><text class="v" x="830" y="910">17</text></g>
<g id="n-growthrate"><circle cx="728" cy="927" r="11" class="p"/><text class="l" x="728" y="930" font-size="8.5">Growth rate</text><text class="v" x="728" y="940">13</text></g>
<g id="n-triacylglycerol"><circle cx="269" cy="710" r="11" class="b"/><text class="l" x="269" y="713" font-size="9">Triacylglycerol</text><text class="v" x="269" y="723">18</text></g>
<g id="n-neutrallipid"><circle cx="208" cy="743" r="12" class="b"/><text class="l" x="208" y="746" font-size="8.5">Neutral lipid</text><text class="v" x="208" y="756">12</text></g>
<g id="n-fatty"><circle cx="320" cy="759" r="12" class="b"/><text class="l" x="320" y="762" font-size="9.5">Fatty</text><text class="v" x="320" y="772">18</text></g>
<g id="n-fattyacid"><circle cx="263" cy="789" r="12" class="b"/><text class="l" x="263" y="792" font-size="9.5">Fatty acid</text><text class="v" x="263" y="802">18</text></g>
<g id="n-neutral"><circle cx="207" cy="803" r="12" class="b"/><text class="l" x="207" y="806" font-size="8.5">Neutral</text><text class="v" x="207" y="816">12</text></g>
<g id="n-lipid"><circle cx="305" cy="821" r="14" class="b"/><text class="l" x="305" y="825" font-size="13">Lipid</text><text class="v" x="305" y="838">32</text></g>
<g id="n-chlorelloide"><circle cx="125" cy="419" r="10" class="lg"/><text class="l" x="125" y="422" font-size="8">Chlorelloide</text><text class="v" x="125" y="431">12</text></g>
<g id="n-dictyosphaerium"><circle cx="190" cy="446" r="10" class="lg"/><text class="l" x="190" y="449" font-size="8">Dictyosphaerium</text><text class="v" x="190" y="458">12</text></g>
<g id="n-grown"><circle cx="102" cy="936" r="11" class="o"/><text class="l" x="102" y="939" font-size="9">Grown</text><text class="v" x="102" y="949">18</text></g>
<g id="n-stress"><circle cx="168" cy="968" r="12" class="o"/><text class="l" x="168" y="972" font-size="11">Stress</text><text class="v" x="168" y="984">23</text></g>
<g id="n-survival"><circle cx="44" cy="984" r="11" class="o"/><text class="l" x="44" y="986" font-size="8.5">Survival</text><text class="v" x="44" y="997">16</text></g>
<g id="n-phytoplankton"><circle cx="110" cy="994" r="12" class="o"/><text class="l" x="110" y="998" font-size="12">Phytoplankton</text><text class="v" x="110" y="1010">26</text></g>
<g id="n-physiological"><circle cx="84" cy="1040" r="12" class="o"/><text class="l" x="84" y="1043" font-size="9.5">Physiological</text><text class="v" x="84" y="1053">19</text></g>
<g id="n-mutantstrain"><circle cx="148" cy="1047" r="13" class="o"/><text class="l" x="148" y="1051" font-size="11">Mutant strain</text><text class="v" x="148" y="1063">23</text></g>
<g id="n-deficient"><circle cx="33" cy="1062" r="12" class="o"/><text class="l" x="33" y="1065" font-size="9.5">Deficient</text><text class="v" x="33" y="1075">19</text></g>
<g id="n-cell"><circle cx="259" cy="1070" r="69" class="o"/><text class="l" x="259" y="1081" font-size="30">Cell</text><text class="v" x="259" y="1105" style="font-size:9px">92</text></g>
<g id="n-fitness"><circle cx="55" cy="1112" r="11" class="o"/><text class="l" x="55" y="1115" font-size="8.5">Fitness</text><text class="v" x="55" y="1125">15</text></g>
<g id="n-lightintensity"><circle cx="118" cy="1113" r="11" class="o"/><text class="l" x="118" y="1116" font-size="8.5">Light intensity</text><text class="v" x="118" y="1126">14</text></g>
<g id="n-resistance"><circle cx="408" cy="1025" r="12" class="pk"/><text class="l" x="408" y="1028" font-size="9.5">Resistance</text><text class="v" x="408" y="1038">19</text></g>
<g id="n-concentration"><circle cx="437" cy="1067" r="12" class="pk"/><text class="l" x="437" y="1071" font-size="12">Concentration</text><text class="v" x="437" y="1083">28</text></g>
<g id="n-division"><circle cx="620" cy="1032" r="12" class="ol"/><text class="l" x="620" y="1035" font-size="8.5">Division</text><text class="v" x="620" y="1045">16</text></g>
<g id="n-celldivision"><circle cx="543" cy="1063" r="12" class="ol"/><text class="l" x="543" y="1066" font-size="8.5">Cell division</text><text class="v" x="543" y="1076">15</text></g>
<g id="n-genome"><circle cx="1031" cy="972" r="12" class="dg"/><text class="l" x="1031" y="977" font-size="12">Genome</text><text class="v" x="1031" y="989">28</text></g>
<g id="n-encode"><circle cx="1133" cy="960" r="12" class="dg"/><text class="l" x="1133" y="963" font-size="9.5">Encode</text><text class="v" x="1133" y="973">20</text></g>
<g id="n-american"><circle cx="1012" cy="1097" r="11" class="cy"/><text class="l" x="1012" y="1100" font-size="9.5">American</text><text class="v" x="1012" y="1110">18</text></g>
<g id="n-americansociety"><circle cx="1073" cy="1136" r="11" class="cy"/><text class="l" x="1073" y="1139" font-size="8.5">American society</text><text class="v" x="1073" y="1149">16</text></g>
<g id="n-environment"><circle cx="432" cy="1150" r="12" class="lbn"/><text class="l" x="432" y="1154" font-size="11">Environment</text><text class="v" x="432" y="1166">23</text></g>
<g id="n-mutation"><circle cx="558" cy="1143" r="20" class="lbn"/><text class="l" x="558" y="1149" font-size="16.5">Mutation</text><text class="v" x="558" y="1163">43</text></g>
<g id="n-exposure"><circle cx="474" cy="1175" r="12" class="lbn"/><text class="l" x="474" y="1179" font-size="11">Exposure</text><text class="v" x="474" y="1191">23</text></g>
<g id="n-fluctuationanalysis"><circle cx="386" cy="1194" r="12" class="lbn"/><text class="l" x="386" y="1197" font-size="8.5">Fluctuation analysis</text><text class="v" x="386" y="1207">17</text></g>
<g id="n-fluctuation"><circle cx="430" cy="1214" r="12" class="lbn"/><text class="l" x="430" y="1217" font-size="9.5">Fluctuation</text><text class="v" x="430" y="1227">19</text></g>
<g id="n-adaptation"><circle cx="515" cy="1211" r="13" class="lbn"/><text class="l" x="515" y="1215" font-size="12">Adaptation</text><text class="v" x="515" y="1227">27</text></g>
<g id="n-spontaneous"><circle cx="469" cy="1234" r="12" class="lbn"/><text class="l" x="469" y="1236" font-size="8.5">Spontaneous</text><text class="v" x="469" y="1247">16</text></g>
<g id="n-resistantcell"><circle cx="417" cy="1250" r="12" class="lbn"/><text class="l" x="417" y="1252" font-size="8.5">Resistant cell</text><text class="v" x="417" y="1263">15</text></g>
<g id="n-spontaneousmutation"><circle cx="524" cy="1255" r="12" class="lbn"/><text class="l" x="524" y="1257" font-size="8.5">Spontaneous mutation</text><text class="v" x="524" y="1268">16</text></g>
<g id="n-resistantmutant"><circle cx="459" cy="1281" r="12" class="lbn"/><text class="l" x="459" y="1284" font-size="9.5">Resistant mutant</text><text class="v" x="459" y="1294">18</text></g>
<g id="n-rarespontaneousmutation"><circle cx="533" cy="1302" r="12" class="lbn"/><text class="l" x="533" y="1304" font-size="8.5">Rare spontaneous mutation</text><text class="v" x="533" y="1315">13</text></g>
</g>
<g id="chart">
<rect x="719" y="1207" width="287" height="233" fill="none" stroke="#b3b3b3" stroke-width="1.2"/>
<text x="858" y="1233" font-size="23" text-anchor="middle" style="font-family:Lato,'Liberation Sans',sans-serif" fill="#1a1a1a">GM-MICROALGAE</text>
<g fill="#000">
<rect x="721.75" y="1430.68" width="6.5" height="9.32"/>
<rect x="734.2" y="1430.68" width="6.5" height="9.32"/>
<rect x="746.65" y="1421.36" width="6.5" height="18.64"/>
<rect x="759.1" y="1402.72" width="6.5" height="37.28"/>
<rect x="771.55" y="1412.04" width="6.5" height="27.96"/>
<rect x="784" y="1402.72" width="6.5" height="37.28"/>
<rect x="796.45" y="1421.36" width="6.5" height="18.64"/>
<rect x="808.9" y="1421.36" width="6.5" height="18.64"/>
<rect x="821.35" y="1430.68" width="6.5" height="9.32"/>
<rect x="833.8" y="1421.36" width="6.5" height="18.64"/>
<rect x="846.25" y="1393.4" width="6.5" height="46.6"/>
<rect x="858.7" y="1384.08" width="6.5" height="55.92"/>
<rect x="871.15" y="1374.76" width="6.5" height="65.24"/>
<rect x="883.6" y="1365.44" width="6.5" height="74.56"/>
<rect x="896.05" y="1318.84" width="6.5" height="121.16"/>
<rect x="908.5" y="1328.16" width="6.5" height="111.84"/>
<rect x="920.95" y="1318.84" width="6.5" height="121.16"/>
<rect x="933.4" y="1300.2" width="6.5" height="139.8"/>
<rect x="945.85" y="1309.52" width="6.5" height="130.48"/>
<rect x="958.3" y="1318.84" width="6.5" height="121.16"/>
<rect x="970.75" y="1281.56" width="6.5" height="158.44"/>
<rect x="983.2" y="1253.6" width="6.5" height="186.4"/>
<rect x="995.65" y="1430.68" width="6.5" height="9.32"/>
</g>
<g class="ax" font-size="13" text-anchor="end">
<text x="707" y="1212">25</text>
<text x="707" y="1258">20</text>
<text x="707" y="1305">15</text>
<text x="707" y="1351">10</text>
<text x="707" y="1398">5</text>
<text x="707" y="1444">0</text>
</g>
<g class="ax" font-size="13.5" text-anchor="end">
<text x="729.5" y="1457" transform="rotate(-90 729.5 1457)">1981</text>
<text x="754.4" y="1457" transform="rotate(-90 754.4 1457)">1996</text>
<text x="779.3" y="1457" transform="rotate(-90 779.3 1457)">2001</text>
<text x="804.2" y="1457" transform="rotate(-90 804.2 1457)">2003</text>
<text x="829.1" y="1457" transform="rotate(-90 829.1 1457)">2005</text>
<text x="854" y="1457" transform="rotate(-90 854 1457)">2007</text>
<text x="878.9" y="1457" transform="rotate(-90 878.9 1457)">2009</text>
<text x="903.8" y="1457" transform="rotate(-90 903.8 1457)">2011</text>
<text x="928.7" y="1457" transform="rotate(-90 928.7 1457)">2013</text>
<text x="953.6" y="1457" transform="rotate(-90 953.6 1457)">2015</text>
<text x="978.5" y="1457" transform="rotate(-90 978.5 1457)">2017</text>
<text x="1003.4" y="1457" transform="rotate(-90 1003.4 1457)">2019</text>
</g>
<text class="ax" x="682" y="1331" font-size="16" text-anchor="middle" transform="rotate(-90 682 1331)">PUBLICATIONS</text>
<text class="ax" x="854" y="1504" font-size="16" text-anchor="middle">YEARS</text>
</g>
</svg>
